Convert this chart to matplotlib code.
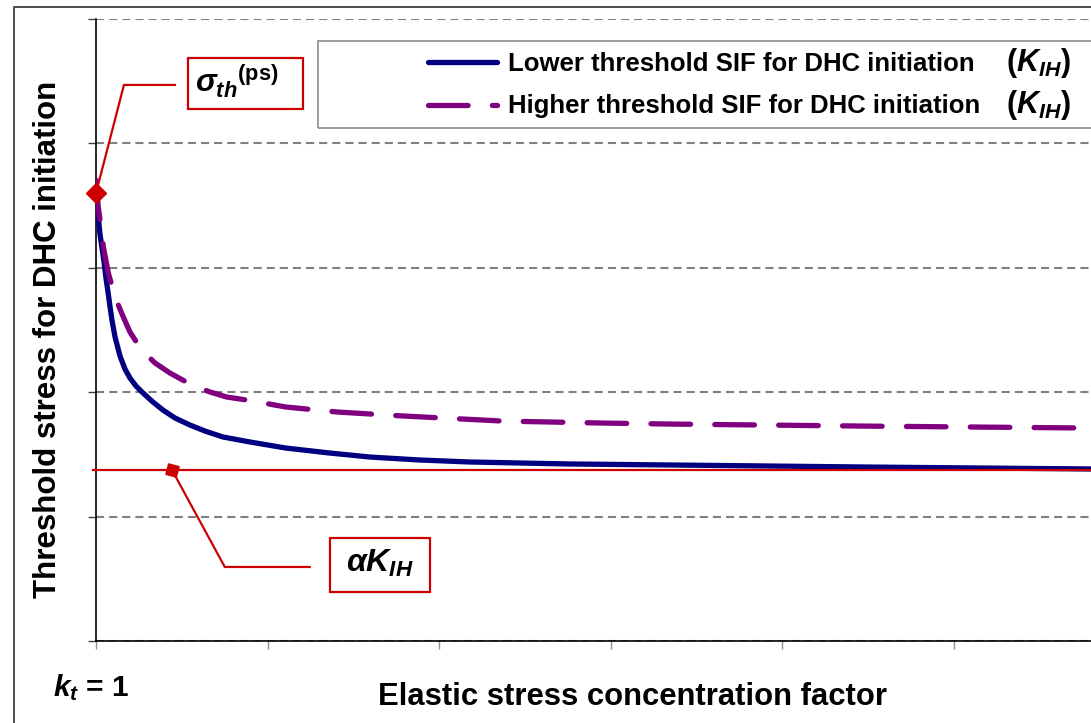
import matplotlib
matplotlib.use("Agg")
import matplotlib.pyplot as plt
from matplotlib.patches import Rectangle
from matplotlib.lines import Line2D

plt.rcParams['font.family'] = 'Liberation Sans'
plt.rcParams['font.weight'] = 'bold'
plt.rcParams['mathtext.fontset'] = 'custom'
plt.rcParams['mathtext.it'] = 'Liberation Sans:italic:bold'
plt.rcParams['mathtext.rm'] = 'Liberation Sans:bold'
plt.rcParams['mathtext.bf'] = 'Liberation Sans:bold'

# values (x = kt, y = stress in gridline units)
kt_lower = [1.000, 1.006, 1.015, 1.023, 1.035, 1.047, 1.058, 1.070, 1.082, 1.093,
            1.111, 1.140, 1.169, 1.198, 1.233, 1.274, 1.332, 1.390, 1.460, 1.548,
            1.635, 1.740, 1.897, 2.107, 2.363, 2.596, 2.887, 3.178, 3.761, 4.343,
            5.450, 6.789, 7.0]
sigma_lower = [3.601, 3.521, 3.384, 3.272, 3.159, 3.047, 2.918, 2.805, 2.685, 2.580,
               2.444, 2.291, 2.186, 2.114, 2.050, 1.994, 1.921, 1.857, 1.793, 1.736,
               1.688, 1.640, 1.600, 1.551, 1.511, 1.479, 1.455, 1.439, 1.423, 1.415,
               1.399, 1.383, 1.381]
kt_higher = [1.000, 1.013, 1.029, 1.043, 1.072, 1.111, 1.159, 1.198, 1.266, 1.344,
             1.431, 1.548, 1.664, 1.763, 1.880, 2.107, 2.404, 2.788, 3.370, 3.953,
             4.343, 5.450, 6.789, 7.0]
sigma_higher = [3.706, 3.489, 3.328, 3.167, 2.958, 2.765, 2.605, 2.484, 2.339, 2.235,
                2.154, 2.066, 2.002, 1.961, 1.937, 1.881, 1.841, 1.809, 1.768, 1.752,
                1.744, 1.728, 1.712, 1.710]
alpha_kih = 1.375
x_ticks = [1, 2, 3, 4, 5, 6, 7]
y_ticks = [0, 1, 2, 3, 4, 5]

lower_label = 'Lower threshold SIF for DHC initiation'
higher_label = 'Higher threshold SIF for DHC initiation'
kih_label = r'$(K_{IH})$'

W, H = 1091, 723
RED = '#cc0000'

fig = plt.figure(figsize=(W / 100, H / 100), dpi=100)
ax = fig.add_axes([96 / W, 1 - 641 / H, (1125 - 96) / W, 622 / H])

ax.plot(kt_lower, sigma_lower, color='#000080', lw=3.8, solid_capstyle='round',
        solid_joinstyle='round', label=lower_label, zorder=3)
ax.plot(kt_higher, sigma_higher, color='#800080', lw=3.8, ls=(0, (7.5, 4.6)),
        dash_capstyle='round', dash_joinstyle='round', label=higher_label, zorder=3)
ax.axhline(alpha_kih, xmin=-0.003, color=RED, lw=1.6, clip_on=False, zorder=4)

ax.set_xlim(1, 7)
ax.set_ylim(0, 5)
ax.set_xticks(x_ticks)
ax.set_yticks(y_ticks)
ax.yaxis.grid(True, color='#808080', ls=(0, (3.9, 2.4)), lw=1.5)
ax.set_axisbelow(True)
ax.tick_params(axis='y', direction='out', length=6, width=1, color='#404040',
               labelleft=False)
ax.tick_params(axis='x', direction='out', length=6, width=1, color='#909090',
               labelbottom=False)
for s in ['top', 'right']:
    ax.spines[s].set_visible(False)
for s in ['left', 'bottom']:
    ax.spines[s].set_linewidth(1.2)

# legend with a wider frame drawn separately
fig.add_artist(Rectangle((318 / W, 1 - 128 / H), (1105 - 318) / W, 87 / H,
                         transform=fig.transFigure, fill=False,
                         ec='#8c8c8c', lw=1.2))
ax.legend(loc='upper left', bbox_to_anchor=(428 / W, 1 - 52 / H),
          bbox_transform=fig.transFigure, frameon=False, borderpad=0,
          borderaxespad=0, handlelength=2.7, handletextpad=0.42,
          labelspacing=0.72, prop={'size': 18.5, 'weight': 'bold'})
for yy in [63, 105]:
    fig.text(1006 / W, 1 - yy / H, kih_label, ha='left', va='center',
             fontsize=22)

# sigma_th annotation
ax.plot([1.460, 1.163, kt_lower[0]], [4.47, 4.47, sigma_lower[0]],
        color=RED, lw=1.6, clip_on=False, zorder=5)
ax.plot(kt_lower[0], sigma_lower[0], marker='D', ms=10, color=RED,
        clip_on=False, zorder=6)
ax.add_patch(Rectangle((1.536, 4.28), 0.670, 0.41, fc='white', ec=RED,
                       lw=1.6, zorder=5))
ax.text(1.822, 4.50, r'${\sigma_{th}}^{(\mathrm{ps})}$', ha='center',
        va='center', fontsize=22.5, zorder=6)

# alpha K_IH annotation
ax.plot([2.246, 1.751, 1.443], [0.595, 0.595, alpha_kih],
        color=RED, lw=1.6, zorder=5)
ax.plot(1.443, alpha_kih, marker=(4, 0, 30), ms=11, color=RED, zorder=6)
ax.add_patch(Rectangle((2.363, 0.394), 0.582, 0.434, fc='white', ec=RED,
                       lw=1.6, zorder=5))
ax.text(2.654, 0.62, r'$\alpha K_{IH}$', ha='center', va='center',
        fontsize=23, zorder=6)

# axis titles
fig.text(48 / W, 1 - 339 / H, 'Threshold stress for DHC initiation',
         rotation=90, ha='center', va='center', fontsize=22.5, fontweight='bold')
fig.text(632 / W, 1 - 697 / H, 'Elastic stress concentration factor',
         ha='center', va='center', fontsize=22.3, fontweight='bold')
fig.text(53 / W, 1 - 688 / H, r'$k_t$ = 1', ha='left', va='center',
         fontsize=21.5, fontweight='bold')

# outer frame
fig.add_artist(Line2D([14 / W, 14 / W, 1.0], [0, 1 - 7 / H, 1 - 7 / H],
                      transform=fig.transFigure, color='#404040', lw=1.3))

fig.savefig('out.png', dpi=100)
